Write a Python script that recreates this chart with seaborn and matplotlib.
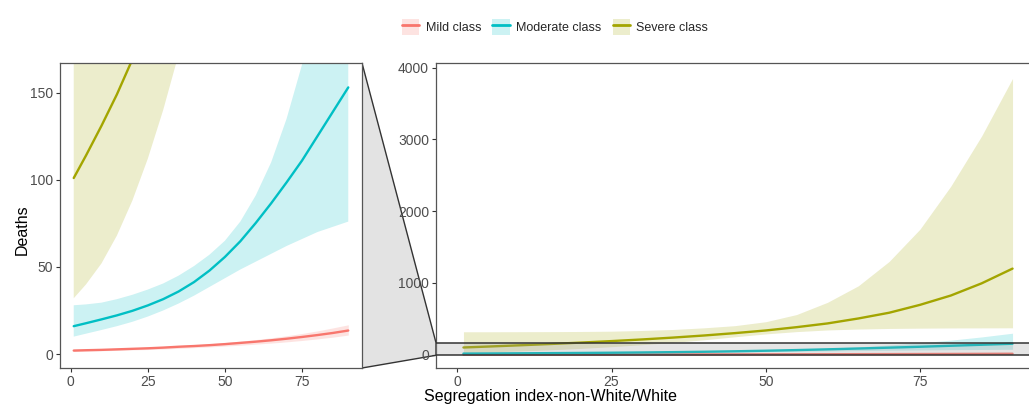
import seaborn as sns
import matplotlib.pyplot as plt
import pandas as pd
from matplotlib.patches import Polygon, Patch
from matplotlib.lines import Line2D

# segregation index values where the curves were read
seg = [1, 5, 10, 15, 20, 25, 30, 35, 40, 45, 50, 55, 60, 65, 70, 75, 80, 85, 90]

mild = [2.0, 2.2, 2.4, 2.7, 3.0, 3.3, 3.7, 4.2, 4.6, 5.1, 5.7, 6.4, 7.1, 7.9, 8.8, 9.8, 10.9, 12.1, 13.5]
mild_lo = [1.5, 1.7, 1.9, 2.1, 2.4, 2.6, 2.9, 3.3, 3.7, 4.1, 4.6, 5.1, 5.7, 6.3, 7.0, 7.8, 8.7, 9.7, 10.9]
mild_hi = [2.7, 2.8, 3.0, 3.3, 3.6, 3.9, 4.3, 4.8, 5.3, 5.9, 6.6, 7.4, 8.3, 9.3, 10.5, 11.8, 13.3, 15.0, 16.8]

moderate = [16, 17.7, 19.9, 22.2, 24.8, 27.9, 31.5, 35.9, 41.3, 47.9, 55.7, 64.7, 75.2, 86.5, 98.5, 111, 125, 139, 153]
moderate_lo = [10, 11.7, 13.8, 16, 18.5, 21.5, 25, 29, 33.5, 38.5, 43.5, 48.5, 53, 57.5, 62, 66, 70, 73, 76]
moderate_hi = [28, 28.5, 29.5, 31.5, 34, 37, 40.5, 45, 50.5, 57, 65, 76, 91, 110, 135, 166, 203, 248, 300]

severe = [101, 114, 131, 149, 169, 190, 213, 239, 268, 301, 338, 384, 436, 505, 585, 695, 825, 995, 1200]
severe_lo = [32, 40, 52, 68, 88, 112, 140, 172, 208, 250, 290, 322, 345, 358, 366, 370, 373, 374, 375]
severe_hi = [320, 320, 321, 322, 324, 328, 338, 352, 375, 405, 460, 560, 730, 960, 1300, 1750, 2350, 3050, 3850]

classes = ["Mild class", "Moderate class", "Severe class"]
colors = ["#F8766D", "#00BFC4", "#A3A500"]

frames = []
for name, mid, lo, hi in zip(classes, [mild, moderate, severe],
                             [mild_lo, moderate_lo, severe_lo],
                             [mild_hi, moderate_hi, severe_hi]):
    frames.append(pd.DataFrame({"seg": seg, "deaths": mid, "lo": lo, "hi": hi, "cls": name}))
df = pd.concat(frames, ignore_index=True)

sns.set_style("white")
plt.rcParams["font.family"] = ["Liberation Sans", "DejaVu Sans"]

W, H = 1029, 407
fig = plt.figure(figsize=(W / 100, H / 100), dpi=100)
ax1 = fig.add_axes([60 / W, 1 - 368 / H, 302 / W, 305 / H])
ax2 = fig.add_axes([436 / W, 1 - 368 / H, 604 / W, 305 / H])

zoom_lo, zoom_hi = -8, 167

for ax in (ax1, ax2):
    for name, c in zip(classes, colors):
        d = df[df["cls"] == name]
        ax.fill_between(d["seg"], d["lo"], d["hi"], color=c, alpha=0.2, lw=0)
    sns.lineplot(data=df, x="seg", y="deaths", hue="cls", palette=colors,
                 ax=ax, lw=1.7, legend=False)
    ax.set_xlim(-3.45, 94.45)
    ax.set_xticks([0, 25, 50, 75])
    ax.set_xlabel("")
    ax.set_ylabel("")
    for s in ax.spines.values():
        s.set_color("#555555")
        s.set_linewidth(0.9)
    ax.tick_params(axis="both", length=3, width=0.8, color="#333333",
                   labelcolor="#4d4d4d", labelsize=10, pad=2, bottom=True, left=True)

ax1.set_ylim(zoom_lo, zoom_hi)
ax1.set_yticks([0, 50, 100, 150])
ax2.set_ylim(-185, 4065)
ax2.set_yticks([0, 1000, 2000, 3000, 4000])

# zoom indicator band on the full panel
ax2.axhspan(zoom_lo, zoom_hi, color="#9a9a9a", alpha=0.25, lw=0, zorder=5)
ax2.axhline(zoom_lo, color="#333333", lw=1.1, zorder=6)
ax2.axhline(zoom_hi, color="#333333", lw=1.1, zorder=6)

# trapezoid linking the zoomed panel to the band
inv = fig.transFigure.inverted()
p_top = inv.transform(ax1.transAxes.transform((1, 1)))
p_bot = inv.transform(ax1.transAxes.transform((1, 0)))
q_top = inv.transform(ax2.transData.transform((-3.45, zoom_hi)))
q_bot = inv.transform(ax2.transData.transform((-3.45, zoom_lo)))
trap = Polygon([p_top, q_top, q_bot, p_bot], closed=True, transform=fig.transFigure,
               facecolor="#e3e3e3", edgecolor="#333333", lw=1.0, zorder=-1)
fig.patches.append(trap)

fig.text(22 / W, 1 - 230 / H, "Deaths", rotation=90, ha="center", va="center",
         fontsize=11.5, color="black")
fig.text(550 / W, 1 - 397 / H, "Segregation index-non-White/White", ha="center",
         va="center", fontsize=11.5, color="black")

handles = [(Patch(facecolor=c, alpha=0.2, lw=0), Line2D([], [], color=c, lw=2))
           for c in colors]
fig.legend(handles, classes, loc="center", bbox_to_anchor=(555 / W, 1 - 27 / H),
           ncol=3, frameon=False, fontsize=9, handlelength=1.4, handleheight=1.7,
           columnspacing=0.9, handletextpad=0.5)

fig.savefig("out.png", dpi=100)
